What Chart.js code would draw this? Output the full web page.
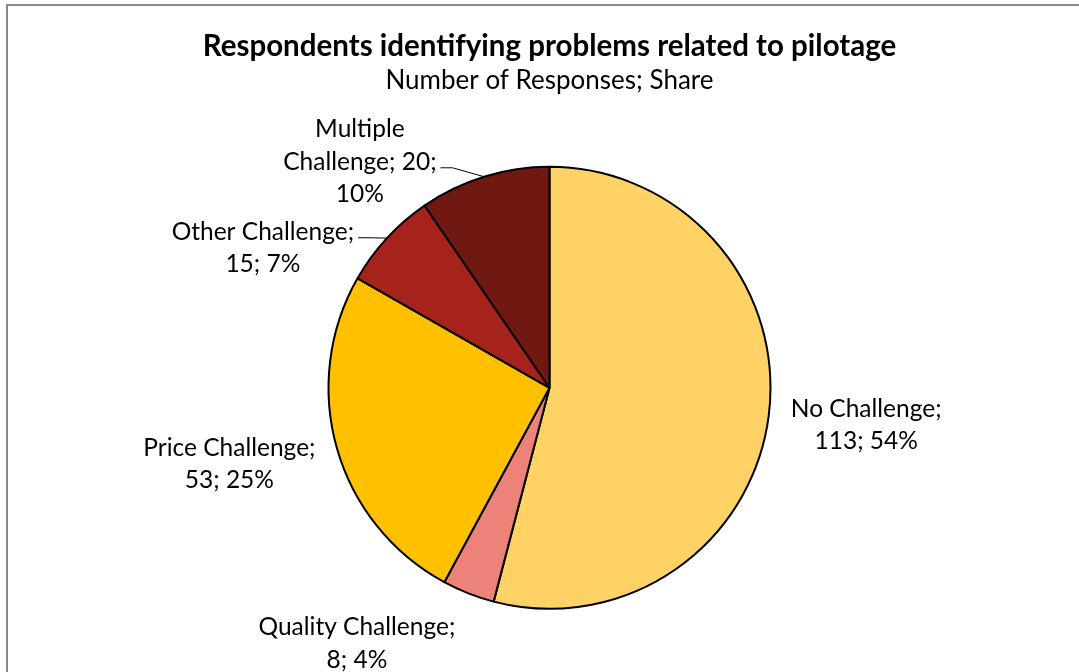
<!DOCTYPE html>
<html>
<head>
<meta charset="utf-8">
<title>Respondents identifying problems related to pilotage</title>
<script src="https://cdn.jsdelivr.net/npm/chart.js@4.4.1/dist/chart.umd.min.js"></script>
<style>
  html, body { margin: 0; padding: 0; background: #fff; overflow: hidden; }
  #wrap { position: absolute; left: 0; top: 0; width: 1099px; height: 672px; }
</style>
</head>
<body>
<div id="wrap"><canvas id="pilotagePie" width="1099" height="672"></canvas></div>
<script>
// data
var categories = ['No Challenge', 'Quality Challenge', 'Price Challenge', 'Other Challenge', 'Multiple Challenge'];
var responses = [113, 8, 53, 15, 20];
var sliceColors = ['#FFD266', '#ED8278', '#FFC000', '#A5231A', '#701812'];

var titleText = 'Respondents identifying problems related to pilotage';
var subtitleText = 'Number of Responses; Share';

var total = responses.reduce(function (a, b) { return a + b; }, 0);

function wrapWords(ctx, text, maxW) {
  var words = text.split(' ');
  var lines = [];
  var cur = '';
  words.forEach(function (w) {
    var test = cur ? cur + ' ' + w : w;
    if (cur && ctx.measureText(test).width > maxW) {
      lines.push(cur);
      cur = w;
    } else {
      cur = test;
    }
  });
  if (cur) lines.push(cur);
  return lines;
}

var frameAndBg = {
  id: 'frameAndBg',
  beforeDraw: function (chart) {
    var ctx = chart.ctx;
    ctx.save();
    ctx.fillStyle = '#fff';
    ctx.fillRect(0, 0, chart.width, chart.height);
    ctx.strokeStyle = '#888888';
    ctx.lineWidth = 2;
    ctx.strokeRect(7, 5, 2000, 2000);
    ctx.restore();
  }
};

// outside labels ("Name; value; pct%") with optional leader lines
var sliceLabels = {
  id: 'sliceLabels',
  afterDatasetsDraw: function (chart, args, opts) {
    var ctx = chart.ctx;
    var meta = chart.getDatasetMeta(0);
    ctx.save();
    ctx.font = opts.font;
    ctx.fillStyle = '#000';
    ctx.textAlign = 'center';
    ctx.textBaseline = 'middle';
    meta.data.forEach(function (arc, i) {
      var p = arc.getProps(['x', 'y', 'startAngle', 'endAngle', 'outerRadius'], true);
      var v = responses[i];
      var pct = Math.round(v / total * 100);
      var text = categories[i] + '; ' + v + '; ' + pct + '%';
      var lines = wrapWords(ctx, text, opts.wrap[i]);
      var pos = opts.positions[i];
      var a = pos.angle * Math.PI / 180;
      var cx = p.x + Math.cos(a) * pos.dist * p.outerRadius;
      var cy = p.y + Math.sin(a) * pos.dist * p.outerRadius;
      var n = lines.length;
      var widest = 0, widestIdx = 0;
      lines.forEach(function (ln, k) {
        var ly = cy + (k - (n - 1) / 2) * opts.lineHeight;
        ctx.fillText(ln, cx, ly);
        var w = ctx.measureText(ln).width;
        if (w > widest) { widest = w; widestIdx = k; }
      });
      if (opts.leaders[i]) {
        var mid = (p.startAngle + p.endAngle) / 2;
        var ax = p.x + Math.cos(mid) * p.outerRadius;
        var ay = p.y + Math.sin(mid) * p.outerRadius;
        var sx = cx + widest / 2 + 4;
        var sy = cy + (widestIdx - (n - 1) / 2) * opts.lineHeight + 6;
        ctx.beginPath();
        ctx.strokeStyle = '#000';
        ctx.lineWidth = 1;
        ctx.moveTo(sx, sy);
        ctx.lineTo(sx + 12, sy);
        ctx.lineTo(ax, ay);
        ctx.stroke();
      }
    });
    ctx.restore();
  }
};

var pilotagePie = new Chart(document.getElementById('pilotagePie'), {
  type: 'pie',
  data: {
    labels: categories,
    datasets: [{
      data: responses,
      backgroundColor: sliceColors,
      borderColor: '#000',
      borderWidth: 2,
      radius: 221
    }]
  },
  options: {
    animation: false,
    responsive: false,
    layout: { padding: { top: 0, bottom: 13, left: 0, right: 0 } },
    plugins: {
      legend: { display: false },
      tooltip: { enabled: false },
      title: {
        display: true,
        text: titleText,
        color: '#000',
        font: { family: 'Lato', size: 29.5, weight: 'bold', lineHeight: 1.2 },
        padding: { top: 29, bottom: 0 }
      },
      subtitle: {
        display: true,
        text: subtitleText,
        color: '#000',
        font: { family: 'Lato', size: 26, weight: 'normal', lineHeight: 1.2 },
        padding: { top: 1, bottom: 20 }
      },
      sliceLabels: {
        font: '24.5px Lato',
        lineHeight: 32.5,
        wrap: [170, 205, 200, 200, 165],
        leaders: [false, false, false, true, true],
        positions: [
          { angle: 6.7, dist: 1.443 },
          { angle: 127, dist: 1.448 },
          { angle: 166.6, dist: 1.489 },
          { angle: 206, dist: 1.443 },
          { angle: 230, dist: 1.335 }
        ]
      }
    }
  },
  plugins: [frameAndBg, sliceLabels]
});
</script>
</body>
</html>
